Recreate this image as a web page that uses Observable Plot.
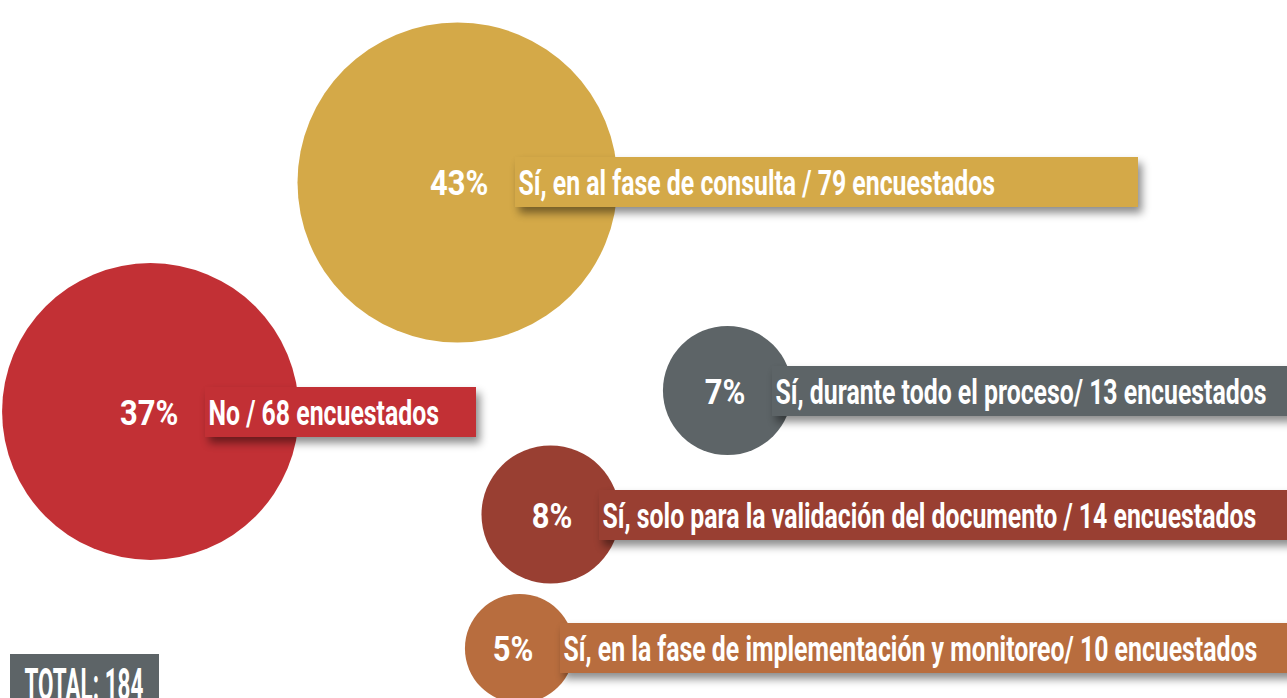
<!DOCTYPE html>
<html><head><meta charset="utf-8">
<script src="https://cdn.jsdelivr.net/npm/d3@7"></script>
<script src="https://cdn.jsdelivr.net/npm/@observablehq/plot@0.6"></script>
<style>
html,body{margin:0;padding:0;background:#fff;overflow:hidden}
#chart svg{display:block}
</style>
</head><body><div id="chart"></div>
<script>
// ---- data ----
const categories = [
  "Sí, en al fase de consulta",
  "No",
  "Sí, durante todo el proceso",
  "Sí, solo para la validación del documento",
  "Sí, en la fase de implementación y monitoreo"
];
const percents = [43, 37, 7, 8, 5];
const respondents = [79, 68, 13, 14, 10];
const separators = [" / ", " / ", "/ ", " / ", "/ "];
const unitLabel = "encuestados";
const totalLabel = "TOTAL:";

// ---- layout (positions) ----
const centerX = [457, 150, 727, 550, 519];
const centerY = [182, 411, 390, 514, 648];
const barLeft = [515, 205, 772, 599, 560];
const barRight = [1138, 476, 1300, 1300, 1300];
const barMid = [182, 412, 391, 515, 648];
const textLeft = [518, 208, 775, 602, 563];

// ---- style ----
const colors = ["#D4A948", "#C23035", "#5D6467", "#993F32", "#B86D3E"];
const totalColor = "#5D6467";
const font = "Roboto, 'Noto Sans', sans-serif";

const rows = categories.map((c, i) => ({
  category: c, pct: percents[i], n: respondents[i],
  label: `${c}${separators[i]}${respondents[i]} ${unitLabel}`,
  cx: centerX[i], cy: centerY[i], bx1: barLeft[i], bx2: barRight[i],
  by: barMid[i], tx: textLeft[i]
}));
const total = d3.sum(respondents);

const chart = Plot.plot({
  width: 1287, height: 698,
  margin: 0,
  x: {domain: [0, 1287], range: [0, 1287], axis: null},
  y: {domain: [0, 698], range: [0, 698], axis: null},
  r: {type: "sqrt", domain: [0, 43], range: [0, 160]},
  color: {domain: categories, range: colors},
  marks: [
    Plot.dot(rows, {x: "cx", y: "cy", r: "pct", fill: "category", stroke: null}),
    Plot.rect(rows, {x1: "bx1", x2: "bx2", y1: d => d.by - 25, y2: d => d.by + 25, fill: "category"}),
    Plot.text(rows, {x: d => d.tx - 30, y: d => d.by + 1, text: d => `${d.pct}%`, textAnchor: "end",
      fill: "white", fontSize: 36, fontWeight: 700, fontFamily: font}),
    Plot.text(rows, {x: "tx", y: d => d.by + 1, text: "label", textAnchor: "start",
      fill: "white", fontSize: 36, fontWeight: 700, fontFamily: font}),
    Plot.rect([total], {x1: 10, x2: 159, y1: 654, y2: 720, fill: totalColor}),
    Plot.text([total], {x: 24, y: 685, text: d => `${totalLabel} ${d}`, textAnchor: "start",
      fill: "white", fontSize: 44, fontWeight: 700, fontFamily: font})
  ]
});
document.getElementById("chart").appendChild(chart);

// condense text horizontally (the original uses a condensed typeface)
const isNum = v => v != null && v !== "" && !isNaN(+v);
chart.querySelectorAll("text").forEach(t => {
  const s = t.textContent.startsWith(totalLabel) ? 0.51 : t.textContent.endsWith("%") ? 0.86 : 0.69;
  const ax = t.getAttribute("x"), ay = t.getAttribute("y");
  let pre = "";
  if (isNum(ax) || isNum(ay)) {
    pre = ` translate(${isNum(ax) ? +ax : 0},${isNum(ay) ? +ay : 0})`;
    if (isNum(ax)) t.removeAttribute("x");
    if (isNum(ay)) t.removeAttribute("y");
  }
  const tr = t.getAttribute("transform") || "";
  t.setAttribute("transform", `${tr}${pre} scale(${s},1)`);
});
// drop shadow on the label bars
const rectGroups = chart.querySelectorAll('g[aria-label="rect"]');
if (rectGroups[0]) rectGroups[0].style.filter = "drop-shadow(4px 6px 4px rgba(0,0,0,0.45))";
</script>
</body></html>
